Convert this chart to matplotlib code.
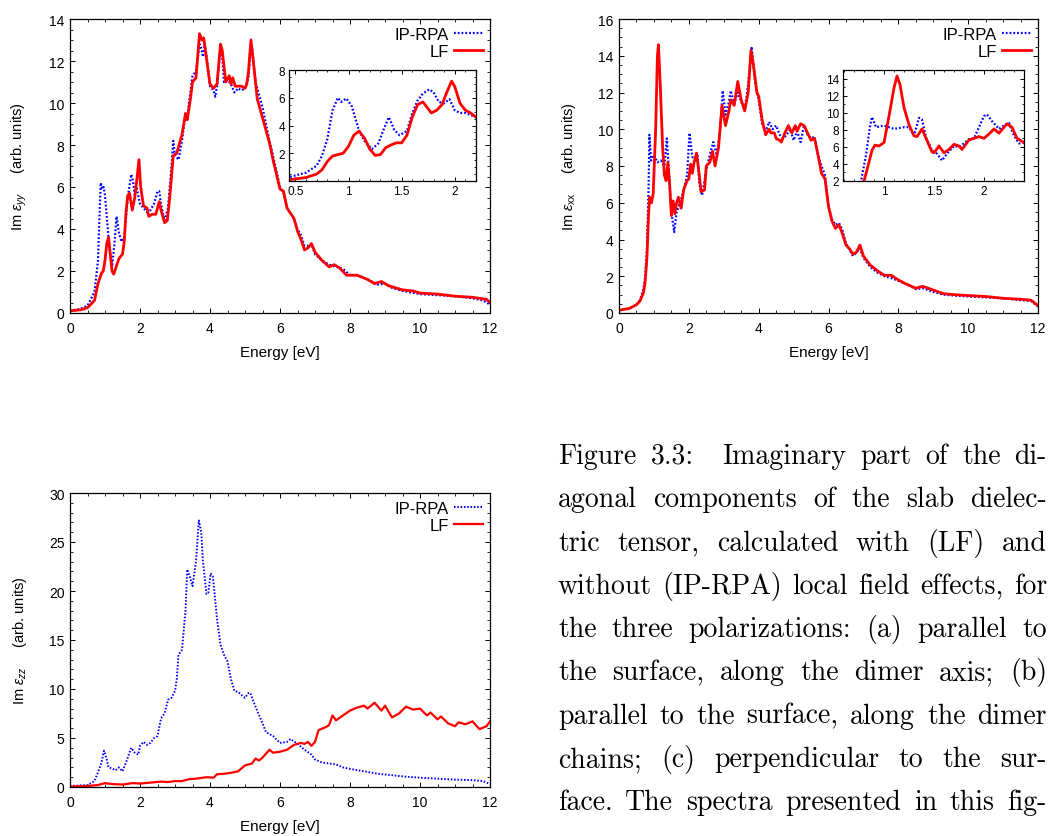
import re
import matplotlib.pyplot as plt
from matplotlib.ticker import AutoMinorLocator

plt.rcParams['font.family'] = ['Liberation Sans', 'DejaVu Sans']
plt.rcParams['mathtext.fontset'] = 'custom'
plt.rcParams['mathtext.rm'] = 'Liberation Sans'
plt.rcParams['mathtext.it'] = 'Liberation Sans:italic'

BLUE = '#0000ff'
RED = '#ff0000'

# --- eps_yy, IP-RPA ---
yy_ip_e = [0, 0.3, 0.5, 0.7, 0.8, 0.85, 0.88, 0.92, 0.96, 1.0, 1.1, 1.2, 1.27, 1.33, 1.4,
           1.47, 1.55, 1.65, 1.75, 1.8, 1.85, 1.9, 2.0, 2.1, 2.2, 2.3, 2.4, 2.5, 2.55, 2.6,
           2.7, 2.8, 2.9, 2.95, 3.0, 3.1, 3.2, 3.3, 3.35, 3.4, 3.5, 3.6, 3.7, 3.75, 3.8,
           3.85, 3.9, 4.0, 4.1, 4.15, 4.2, 4.3, 4.35, 4.4, 4.5, 4.6, 4.7, 4.8, 4.9, 5.0,
           5.1, 5.15, 5.2, 5.3, 5.5, 5.7, 5.8, 6.0, 6.1, 6.2, 6.4, 6.5, 6.6, 6.7, 6.8,
           6.9, 7.0, 7.2, 7.4, 7.6, 7.8, 8.0, 8.2, 8.5, 8.8, 9.0, 9.2, 9.5, 10, 10.5,
           11, 11.5, 11.8, 12]
yy_ip = [0.1, 0.2, 0.35, 1.0, 2.5, 5.0, 6.2, 5.9, 6.0, 5.6, 3.6, 2.2, 3.3, 4.6, 3.8,
         3.4, 3.6, 5.5, 6.6, 6.3, 5.6, 6.0, 5.2, 5.0, 4.8, 4.9, 5.2, 5.8, 5.8, 5.2,
         4.4, 5.0, 7.0, 8.2, 7.5, 7.3, 8.2, 9.5, 9.3, 10.0, 11.3, 11.5, 12.8, 12.6, 12.2,
         12.8, 12.3, 10.8, 10.6, 10.3, 10.8, 12.7, 12.2, 11.0, 11.1, 10.9, 10.5, 10.7, 10.6, 10.7,
         11.2, 12.5, 12.7, 11.0, 9.8, 8.2, 7.5, 6.0, 5.7, 5.0, 4.5, 4.0, 3.7, 3.2, 3.2,
         3.3, 2.8, 2.5, 2.3, 2.2, 2.1, 1.8, 1.8, 1.6, 1.35, 1.4, 1.2, 1.05, 0.9, 0.85,
         0.8, 0.7, 0.6, 0.4]

# --- eps_yy, LF ---
yy_lf_e = [0, 0.3, 0.5, 0.7, 0.8, 0.9, 0.95, 1.0, 1.05, 1.1, 1.15, 1.2, 1.25, 1.3, 1.4,
           1.5, 1.55, 1.6, 1.65, 1.7, 1.78, 1.85, 1.92, 1.97, 2.02, 2.1, 2.2, 2.25, 2.35,
           2.45, 2.55, 2.6, 2.7, 2.78, 2.85, 2.95, 3.05, 3.2, 3.3, 3.35, 3.45, 3.5, 3.6,
           3.7, 3.77, 3.82, 3.9, 4.0, 4.1, 4.2, 4.3, 4.35, 4.45, 4.55, 4.6, 4.65, 4.72,
           4.8, 4.9, 5.0, 5.05, 5.1, 5.17, 5.25, 5.35, 5.5, 5.7, 5.8, 5.9, 6.0, 6.1, 6.2,
           6.4, 6.5, 6.6, 6.7, 6.8, 6.9, 7.0, 7.2, 7.4, 7.55, 7.7, 7.9, 8.2, 8.5, 8.7,
           8.9, 9.1, 9.3, 9.5, 9.8, 10, 10.5, 11, 11.5, 11.9, 12]
yy_lf = [0.1, 0.15, 0.25, 0.6, 1.4, 1.9, 2.0, 2.5, 3.3, 3.6, 2.8, 2.0, 1.85, 2.1, 2.6,
         2.8, 3.4, 4.8, 5.6, 5.7, 4.9, 5.5, 6.5, 7.3, 6.0, 5.1, 5.0, 4.6, 4.7,
         4.7, 5.3, 4.9, 4.3, 4.4, 5.5, 7.5, 7.6, 8.5, 9.5, 9.2, 10.3, 11.0, 11.2,
         13.3, 13.0, 13.1, 12.1, 10.9, 10.7, 10.9, 12.8, 12.5, 11.0, 11.3, 10.9, 11.2, 10.8,
         10.8, 10.8, 10.7, 10.9, 11.5, 13.0, 11.8, 10.2, 9.3, 8.1, 7.3, 6.6, 5.9, 5.8, 5.0,
         4.5, 3.9, 3.5, 3.0, 3.1, 3.3, 2.9, 2.5, 2.2, 2.3, 2.15, 1.8, 1.8, 1.6, 1.4,
         1.5, 1.3, 1.2, 1.1, 1.05, 0.95, 0.9, 0.8, 0.75, 0.65, 0.5]

# --- eps_yy inset ---
yy_in_ip_e = [0.45, 0.6, 0.7, 0.75, 0.8, 0.85, 0.9, 0.93, 0.98, 1.03, 1.1, 1.15, 1.22, 1.28,
              1.33, 1.38, 1.43, 1.48, 1.55, 1.6, 1.65, 1.7, 1.76, 1.8, 1.85, 1.9, 1.95,
              2.0, 2.05, 2.1, 2.2]
yy_in_ip = [0.3, 0.6, 1.1, 1.8, 3.0, 5.1, 6.0, 5.7, 5.95, 5.4, 3.6, 2.9, 2.3, 2.7,
            3.7, 4.6, 3.7, 3.3, 3.6, 4.9, 5.8, 6.3, 6.6, 6.4, 5.7, 5.6, 5.9,
            5.1, 4.9, 4.9, 4.6]
yy_in_lf_e = [0.45, 0.6, 0.7, 0.75, 0.8, 0.85, 0.9, 0.95, 1.0, 1.05, 1.1, 1.15, 1.2, 1.25,
              1.3, 1.35, 1.4, 1.45, 1.5, 1.55, 1.6, 1.65, 1.7, 1.75, 1.78, 1.83, 1.88,
              1.92, 1.97, 2.0, 2.05, 2.1, 2.15, 2.2]
yy_in_lf = [0.1, 0.25, 0.5, 0.8, 1.4, 1.8, 1.9, 2.0, 2.5, 3.3, 3.6, 3.1, 2.3, 1.85,
            1.9, 2.4, 2.6, 2.75, 2.75, 3.3, 4.6, 5.5, 5.7, 5.2, 4.9, 5.1, 5.5,
            6.3, 7.2, 6.8, 5.6, 5.1, 4.9, 4.6]

# --- eps_xx, IP-RPA ---
xx_ip_e = [0, 0.3, 0.5, 0.6, 0.7, 0.75, 0.8, 0.85, 0.87, 0.92, 1.0, 1.1, 1.2, 1.3, 1.37,
           1.42, 1.5, 1.58, 1.65, 1.75, 1.85, 1.95, 2.02, 2.1, 2.2, 2.25, 2.3, 2.38, 2.5,
           2.6, 2.7, 2.8, 2.9, 2.97, 3.05, 3.15, 3.2, 3.3, 3.4, 3.5, 3.6, 3.7, 3.8, 3.9,
           4.0, 4.1, 4.2, 4.3, 4.4, 4.5, 4.6, 4.7, 4.8, 4.9, 5.0, 5.1, 5.2, 5.3, 5.4,
           5.5, 5.6, 5.7, 5.8, 5.9, 6.0, 6.1, 6.2, 6.3, 6.4, 6.5, 6.7, 6.8, 6.9, 7.0,
           7.2, 7.4, 7.6, 7.8, 8.0, 8.3, 8.5, 8.7, 9.0, 9.3, 9.6, 10, 10.5, 11, 11.5,
           11.8, 12]
xx_ip = [0.15, 0.25, 0.45, 0.7, 1.3, 2.0, 3.5, 7.0, 9.7, 8.3, 8.6, 8.2, 8.3, 8.0, 9.5,
         8.0, 5.5, 4.4, 5.5, 6.0, 6.7, 7.5, 9.8, 8.5, 8.3, 8.6, 7.0, 6.4, 7.8,
         8.6, 9.3, 8.6, 10.0, 12.1, 10.8, 11.5, 12.1, 11.4, 12.0, 11.5, 11.0, 12.5, 14.5, 12.5,
         11.6, 10.3, 9.9, 10.4, 10.0, 10.2, 9.7, 9.5, 9.7, 10.0, 9.4, 9.9, 9.3, 10.2, 9.7,
         9.5, 9.6, 8.6, 8.0, 7.5, 5.8, 5.1, 4.8, 4.9, 4.5, 3.8, 3.1, 3.3, 3.5, 3.0,
         2.5, 2.2, 2.0, 1.9, 1.75, 1.5, 1.3, 1.35, 1.15, 1.0, 0.95, 0.9, 0.85, 0.8, 0.7,
         0.65, 0.35]

# --- eps_xx, LF ---
xx_lf_e = [0, 0.3, 0.5, 0.6, 0.7, 0.75, 0.8, 0.85, 0.88, 0.93, 0.98, 1.05, 1.1, 1.13, 1.18,
           1.25, 1.3, 1.35, 1.4, 1.45, 1.5, 1.55, 1.6, 1.65, 1.7, 1.78, 1.85, 1.95, 2.0,
           2.05, 2.1, 2.15, 2.22, 2.3, 2.35, 2.45, 2.5, 2.6, 2.68, 2.75, 2.85, 2.95, 3.05,
           3.15, 3.2, 3.3, 3.4, 3.5, 3.6, 3.7, 3.78, 3.85, 3.95, 4.0, 4.1, 4.2, 4.3, 4.35,
           4.45, 4.5, 4.6, 4.65, 4.75, 4.85, 4.95, 5.05, 5.1, 5.2, 5.3, 5.4, 5.5, 5.6,
           5.7, 5.8, 5.9, 6.0, 6.1, 6.2, 6.3, 6.4, 6.5, 6.6, 6.7, 6.8, 6.9, 7.0, 7.2,
           7.4, 7.6, 7.8, 8.0, 8.2, 8.5, 8.7, 9.0, 9.3, 9.6, 10, 10.5, 11, 11.5, 11.8, 12]
xx_lf = [0.15, 0.25, 0.45, 0.65, 1.1, 1.7, 3.0, 5.5, 6.3, 6.0, 6.5, 10.0, 14.0, 14.6, 12.5,
         9.0, 7.5, 7.2, 8.2, 7.0, 5.3, 6.1, 5.4, 6.0, 6.3, 5.7, 6.7, 7.2, 7.3,
         8.1, 7.6, 8.2, 8.7, 7.5, 6.6, 6.7, 8.0, 8.2, 8.8, 8.0, 9.0, 11.3, 10.2,
         11.0, 11.6, 11.3, 12.6, 11.6, 11.0, 12.0, 14.3, 13.5, 12.0, 11.8, 10.5, 9.7, 10.0, 9.8,
         9.8, 9.5, 9.4, 9.3, 9.8, 10.2, 9.8, 10.2, 9.9, 10.3, 10.2, 9.8, 9.4, 9.5,
         8.6, 7.6, 7.3, 5.8, 5.0, 4.6, 4.8, 4.3, 3.7, 3.5, 3.2, 3.3, 3.7, 3.1, 2.6,
         2.3, 2.05, 2.05, 1.8, 1.6, 1.35, 1.45, 1.25, 1.05, 1.0, 0.95, 0.9, 0.8, 0.75, 0.7, 0.4]

# --- eps_xx inset ---
xx_in_ip_e = [0.6, 0.7, 0.77, 0.82, 0.86, 0.88, 0.92, 1.0, 1.1, 1.2, 1.25, 1.3, 1.35, 1.38,
              1.42, 1.48, 1.53, 1.58, 1.63, 1.7, 1.75, 1.8, 1.85, 1.9, 1.95, 2.0, 2.03,
              2.08, 2.15, 2.2, 2.25, 2.3, 2.35, 2.4]
xx_in_ip = [0.6, 1.2, 2.0, 5.0, 8.4, 9.5, 8.3, 8.5, 8.1, 8.3, 8.3, 7.3, 9.4, 9.2,
            7.1, 5.6, 5.2, 4.4, 5.2, 6.1, 6.0, 6.4, 6.9, 7.0, 8.3, 9.6, 9.8,
            9.0, 8.1, 8.5, 8.8, 7.3, 6.4, 6.5]
xx_in_lf_e = [0.6, 0.7, 0.8, 0.85, 0.88, 0.91, 0.95, 1.0, 1.05, 1.1, 1.13, 1.16, 1.2, 1.25,
              1.3, 1.33, 1.38, 1.42, 1.48, 1.5, 1.55, 1.6, 1.65, 1.7, 1.75, 1.78, 1.85,
              1.9, 1.95, 2.0, 2.05, 2.1, 2.15, 2.2, 2.23, 2.28, 2.33, 2.4]
xx_in_lf = [0.6, 1.1, 2.0, 4.2, 5.6, 6.2, 6.1, 6.5, 9.6, 12.9, 14.3, 13.3, 10.6, 8.6,
            7.3, 7.2, 8.1, 7.0, 5.4, 5.3, 6.1, 5.3, 5.7, 6.3, 6.1, 5.7, 6.8,
            7.0, 7.2, 7.0, 7.5, 8.1, 7.6, 8.3, 8.7, 8.3, 7.0, 6.5]

# --- eps_zz ---
zz_ip_e = [0, 0.5, 0.7, 0.8, 0.9, 0.97, 1.05, 1.1, 1.2, 1.3, 1.4, 1.5, 1.6, 1.7, 1.75,
           1.85, 1.95, 2.0, 2.1, 2.2, 2.3, 2.4, 2.5, 2.6, 2.7, 2.8, 2.9, 3.0, 3.05, 3.1,
           3.2, 3.3, 3.35, 3.42, 3.5, 3.6, 3.68, 3.75, 3.8, 3.9, 3.95, 4.02, 4.08, 4.15,
           4.2, 4.3, 4.4, 4.5, 4.6, 4.7, 4.8, 4.9, 5.0, 5.1, 5.15, 5.3, 5.5, 5.6, 5.8,
           6.0, 6.2, 6.3, 6.5, 6.7, 6.9, 7.0, 7.2, 7.4, 7.6, 7.8, 8.0, 8.4, 8.8, 9.2,
           9.6, 10, 10.5, 11, 11.5, 11.8, 12]
zz_ip = [0.1, 0.2, 0.6, 1.5, 2.5, 3.7, 2.8, 2.0, 1.9, 1.7, 2.0, 1.6, 2.5, 3.5, 4.0,
         3.5, 3.3, 4.2, 4.6, 4.3, 4.5, 5.0, 5.2, 7.0, 7.5, 8.9, 9.1, 9.8, 11.0, 13.5,
         14.0, 18.0, 22.2, 21.5, 20.5, 23.0, 27.2, 26.0, 23.0, 19.7, 19.8, 21.8, 21.5, 19.0,
         17.2, 14.5, 13.5, 12.8, 11.0, 9.8, 9.7, 9.4, 9.1, 9.6, 9.6, 8.2, 6.5, 5.6, 5.2,
         4.5, 4.6, 4.9, 4.4, 3.8, 3.3, 2.8, 2.5, 2.4, 2.3, 2.0, 1.85, 1.6, 1.35, 1.2,
         1.05, 0.95, 0.85, 0.75, 0.7, 0.6, 0.3]
zz_lf_e = [0, 0.5, 0.8, 1.0, 1.2, 1.5, 1.8, 2.0, 2.3, 2.6, 2.8, 3.0, 3.2, 3.4, 3.6, 3.9,
           4.1, 4.2, 4.4, 4.6, 4.8, 5.0, 5.2, 5.3, 5.4, 5.5, 5.6, 5.7, 5.8, 6.0, 6.2,
           6.4, 6.5, 6.6, 6.7, 6.8, 6.9, 7.0, 7.1, 7.3, 7.4, 7.5, 7.6, 7.8, 8.0, 8.2,
           8.4, 8.5, 8.7, 8.9, 9.0, 9.2, 9.4, 9.6, 9.8, 10.0, 10.2, 10.3, 10.5, 10.6,
           10.8, 11.0, 11.1, 11.3, 11.5, 11.7, 11.9, 12]
zz_lf = [0.05, 0.1, 0.2, 0.4, 0.3, 0.25, 0.4, 0.35, 0.45, 0.55, 0.5, 0.6, 0.6, 0.8, 0.85, 1.0,
         0.95, 1.3, 1.35, 1.45, 1.6, 2.2, 2.4, 2.9, 2.7, 3.0, 3.4, 3.8, 3.5, 3.6, 3.8,
         4.3, 4.4, 4.5, 4.4, 4.6, 4.2, 4.6, 5.8, 6.1, 6.3, 7.3, 6.8, 7.3, 7.8, 8.1,
         8.3, 8.0, 8.6, 7.8, 8.3, 7.1, 7.5, 8.2, 7.9, 8.0, 7.3, 7.6, 6.9, 7.2,
         6.5, 6.2, 6.6, 6.4, 6.7, 5.9, 6.2, 6.7]

caption = [
    "Figure 3.3:  Imaginary part of the di-",
    "agonal components of the slab dielec-",
    "tric tensor, calculated with (LF) and",
    "without (IP-RPA) local field effects, for",
    "the three polarizations: (a) parallel to",
    "the surface, along the dimer axis; (b)",
    "parallel to the surface, along the dimer",
    "chains; (c) perpendicular to the sur-",
    "face. The spectra presented in this fig-",
]

W, H = 1050, 837
fig = plt.figure(figsize=(W / 100, H / 100), dpi=100)


def box(l, t, r, b):
    return [l / W, (H - b) / H, (r - l) / W, (b - t) / H]


def style(ax, fs, major=3.5, minor=2.0):
    ax.tick_params(which='both', direction='in', top=True, right=True, labelsize=fs)
    ax.tick_params(which='major', length=major, width=0.7)
    ax.tick_params(which='minor', length=minor, width=0.6)
    ax.tick_params(axis='x', pad=6)
    ax.tick_params(axis='y', pad=4)
    for s in ax.spines.values():
        s.set_linewidth(0.9)


def plot_pair(ax, e1, y1, e2, y2, lw_b=1.6, lw_r=2.0):
    ax.plot(e1, y1, color=BLUE, lw=lw_b, dashes=(0.8, 0.9), label='IP-RPA')
    ax.plot(e2, y2, color=RED, lw=lw_r, label='LF')


def main_panel(ax, ymax, ystep, ylab, minor_y):
    ax.set_xlim(0, 12)
    ax.set_ylim(0, ymax)
    ax.set_xticks(range(0, 13, 2))
    ax.set_yticks(range(0, ymax + 1, ystep))
    ax.xaxis.set_minor_locator(AutoMinorLocator(4))
    ax.yaxis.set_minor_locator(AutoMinorLocator(minor_y))
    style(ax, 10)
    ax.set_xlabel('Energy [eV]', fontsize=11, labelpad=7)
    ax.set_ylabel(ylab, fontsize=10.5, labelpad=14)
    ax.legend(loc='upper right', frameon=False, markerfirst=False, fontsize=12,
              handlelength=1.7, handletextpad=0.3, labelspacing=0.15,
              borderaxespad=0.3, borderpad=0.15)


# (a) eps_yy
ax1 = fig.add_axes(box(70, 20, 490, 314))
plot_pair(ax1, yy_ip_e, yy_ip, yy_lf_e, yy_lf)
main_panel(ax1, 14, 2, r'Im $\epsilon_{yy}$     (arb. units)', 4)

in1 = fig.add_axes(box(289, 71, 476, 182))
plot_pair(in1, yy_in_ip_e, yy_in_ip, yy_in_lf_e, yy_in_lf)
in1.set_xlim(0.44, 2.2)
in1.set_ylim(0, 8)
in1.set_xticks([0.5, 1, 1.5, 2])
in1.set_xticklabels(['0.5', '1', '1.5', '2'])
in1.set_yticks([2, 4, 6, 8])
in1.xaxis.set_minor_locator(AutoMinorLocator(5))
in1.yaxis.set_minor_locator(AutoMinorLocator(4))
style(in1, 8.5, 3, 1.6)
in1.tick_params(axis='x', pad=3)
in1.tick_params(axis='y', pad=3)

# (b) eps_xx
ax2 = fig.add_axes(box(619, 20, 1038, 314))
plot_pair(ax2, xx_ip_e, xx_ip, xx_lf_e, xx_lf)
main_panel(ax2, 16, 2, r'Im $\epsilon_{\rm xx}$     (arb. units)', 4)

in2 = fig.add_axes(box(843, 71, 1024, 182))
plot_pair(in2, xx_in_ip_e, xx_in_ip, xx_in_lf_e, xx_in_lf)
in2.set_xlim(0.59, 2.4)
in2.set_ylim(2, 15)
in2.set_xticks([1, 1.5, 2])
in2.set_xticklabels(['1', '1.5', '2'])
in2.set_yticks(range(2, 15, 2))
in2.xaxis.set_minor_locator(AutoMinorLocator(5))
in2.yaxis.set_minor_locator(AutoMinorLocator(2))
style(in2, 8.5, 3, 1.6)
in2.tick_params(axis='x', pad=3)
in2.tick_params(axis='y', pad=3)

# (c) eps_zz
ax3 = fig.add_axes(box(70, 494, 490, 788))
plot_pair(ax3, zz_ip_e, zz_ip, zz_lf_e, zz_lf, lw_b=1.4, lw_r=1.6)
main_panel(ax3, 30, 5, r'Im $\epsilon_{zz}$     (arb. units)', 5)

# caption, justified like the LaTeX text block (a double space stretches twice as much)
fig.canvas.draw()
rend = fig.canvas.get_renderer()
x0, x1 = 558, 1047
base0, step = 464, 43.3
for i, line in enumerate(caption):
    words = line.split()
    spaces = [len(s) for s in re.findall(r' +', line)]
    yb = (H - (base0 + i * step)) / H
    texts = [fig.text(0, yb, w, fontsize=20, family='cmr10', va='baseline')
             for w in words]
    widths = [t.get_window_extent(rend).width for t in texts]
    gap = (x1 - x0 - sum(widths)) / sum(spaces)
    x = x0
    for j, (t, w) in enumerate(zip(texts, widths)):
        t.set_x(x / W)
        if j < len(spaces):
            x += w + gap * spaces[j]

fig.savefig('out.png', dpi=100)
